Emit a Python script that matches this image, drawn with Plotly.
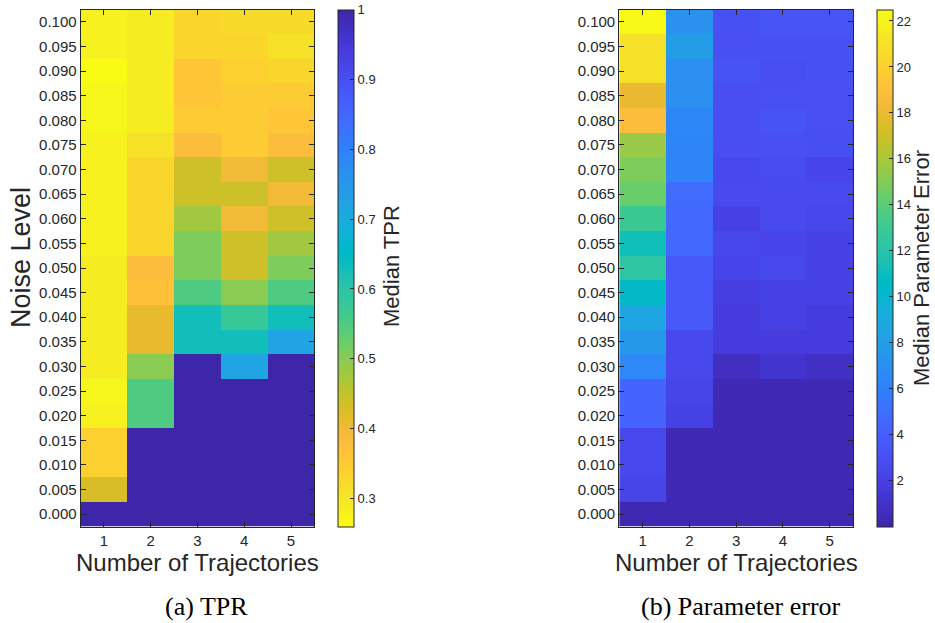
import plotly.graph_objects as go

# ---------------- data ----------------
trajectories = [1, 2, 3, 4, 5]
noise_levels = [0.100, 0.095, 0.090, 0.085, 0.080, 0.075, 0.070, 0.065, 0.060, 0.055,
                0.050, 0.045, 0.040, 0.035, 0.030, 0.025, 0.020, 0.015, 0.010, 0.005, 0.000]
noise_ticks = [round(i * 0.005, 3) for i in range(21)]

# Median TPR, rows = noise level (top to bottom), columns = trajectories 1..5
tpr = [
    [0.28, 0.29, 0.33, 0.32, 0.32],
    [0.28, 0.29, 0.33, 0.33, 0.31],
    [0.26, 0.29, 0.36, 0.34, 0.33],
    [0.27, 0.29, 0.36, 0.35, 0.35],
    [0.27, 0.29, 0.35, 0.35, 0.36],
    [0.28, 0.31, 0.38, 0.35, 0.38],
    [0.28, 0.33, 0.44, 0.40, 0.44],
    [0.28, 0.33, 0.44, 0.44, 0.40],
    [0.28, 0.33, 0.48, 0.40, 0.44],
    [0.28, 0.33, 0.51, 0.44, 0.48],
    [0.29, 0.38, 0.51, 0.44, 0.51],
    [0.29, 0.37, 0.55, 0.50, 0.55],
    [0.29, 0.41, 0.63, 0.58, 0.63],
    [0.29, 0.41, 0.63, 0.63, 0.72],
    [0.29, 0.50, 1.00, 0.72, 1.00],
    [0.27, 0.55, 1.00, 1.00, 1.00],
    [0.28, 0.55, 1.00, 1.00, 1.00],
    [0.34, 1.00, 1.00, 1.00, 1.00],
    [0.34, 1.00, 1.00, 1.00, 1.00],
    [0.43, 1.00, 1.00, 1.00, 1.00],
    [1.00, 1.00, 1.00, 1.00, 1.00],
]

# Median parameter error
perr = [
    [22.4, 7.2, 3.2, 3.4, 3.4],
    [21.0, 8.0, 3.1, 3.2, 3.2],
    [21.0, 7.0, 3.3, 3.0, 3.2],
    [18.0, 7.1, 2.9, 3.1, 3.1],
    [18.8, 6.4, 2.9, 3.3, 3.1],
    [15.6, 6.3, 2.9, 3.1, 3.0],
    [14.9, 6.3, 2.6, 2.8, 2.4],
    [14.4, 4.8, 2.7, 2.7, 2.7],
    [13.0, 4.6, 2.1, 2.7, 2.5],
    [11.2, 4.6, 2.5, 2.4, 2.2],
    [12.3, 3.7, 2.4, 2.6, 2.2],
    [10.6, 3.7, 1.9, 2.2, 2.2],
    [8.6, 3.7, 1.7, 2.1, 1.8],
    [7.6, 2.6, 1.7, 1.7, 1.7],
    [6.5, 2.6, 0.7, 1.2, 0.8],
    [4.3, 2.3, 0.4, 0.4, 0.4],
    [4.3, 2.2, 0.4, 0.4, 0.4],
    [2.6, 0.4, 0.4, 0.4, 0.4],
    [2.6, 0.4, 0.4, 0.4, 0.4],
    [2.3, 0.4, 0.4, 0.4, 0.4],
    [0.3, 0.3, 0.3, 0.3, 0.3],
]

tpr_cbar_ticks = [0.3, 0.4, 0.5, 0.6, 0.7, 0.8, 0.9, 1]
perr_cbar_ticks = [2, 4, 6, 8, 10, 12, 14, 16, 18, 20, 22]

# MATLAB parula (R2014b) colormap
parula = [
    [0.2422, 0.1504, 0.6603], [0.2504, 0.1650, 0.7076], [0.2578, 0.1818, 0.7511], [0.2647, 0.1978, 0.7952],
    [0.2706, 0.2147, 0.8364], [0.2751, 0.2342, 0.8710], [0.2783, 0.2559, 0.8991], [0.2803, 0.2782, 0.9221],
    [0.2813, 0.3006, 0.9414], [0.2810, 0.3228, 0.9579], [0.2795, 0.3447, 0.9717], [0.2760, 0.3667, 0.9829],
    [0.2699, 0.3892, 0.9906], [0.2602, 0.4123, 0.9952], [0.2440, 0.4358, 0.9988], [0.2206, 0.4603, 0.9973],
    [0.1963, 0.4847, 0.9892], [0.1834, 0.5074, 0.9798], [0.1786, 0.5289, 0.9682], [0.1764, 0.5499, 0.9520],
    [0.1687, 0.5703, 0.9359], [0.1540, 0.5902, 0.9218], [0.1460, 0.6091, 0.9079], [0.1380, 0.6276, 0.8973],
    [0.1248, 0.6459, 0.8883], [0.1113, 0.6635, 0.8763], [0.0952, 0.6798, 0.8598], [0.0689, 0.6948, 0.8394],
    [0.0297, 0.7082, 0.8163], [0.0036, 0.7203, 0.7917], [0.0067, 0.7312, 0.7660], [0.0433, 0.7411, 0.7394],
    [0.0964, 0.7500, 0.7120], [0.1408, 0.7584, 0.6842], [0.1717, 0.7670, 0.6554], [0.1938, 0.7758, 0.6251],
    [0.2161, 0.7843, 0.5923], [0.2470, 0.7918, 0.5567], [0.2906, 0.7973, 0.5188], [0.3406, 0.8008, 0.4789],
    [0.3909, 0.8029, 0.4354], [0.4456, 0.8024, 0.3909], [0.5044, 0.7993, 0.3480], [0.5616, 0.7942, 0.3045],
    [0.6174, 0.7876, 0.2612], [0.6720, 0.7793, 0.2227], [0.7242, 0.7698, 0.1910], [0.7738, 0.7598, 0.1646],
    [0.8203, 0.7498, 0.1535], [0.8634, 0.7406, 0.1596], [0.9035, 0.7330, 0.1774], [0.9393, 0.7288, 0.2100],
    [0.9728, 0.7298, 0.2394], [0.9956, 0.7434, 0.2371], [0.9970, 0.7659, 0.2199], [0.9952, 0.7893, 0.2028],
    [0.9892, 0.8136, 0.1885], [0.9786, 0.8386, 0.1766], [0.9676, 0.8639, 0.1643], [0.9610, 0.8890, 0.1537],
    [0.9597, 0.9135, 0.1423], [0.9628, 0.9373, 0.1265], [0.9691, 0.9606, 0.1064], [0.9769, 0.9839, 0.0805],
]
n = len(parula)
parula_scale = [[i / (n - 1), "rgb(%d,%d,%d)" % tuple(round(c * 255) for c in rgb)] for i, rgb in enumerate(parula)]

# ---------------- layout helpers ----------------
W, H = 935, 623
def px(x):
    return x / W
def py(y):
    return 1 - y / H

TOP, BOT = 9.5, 526.5
AX_COL = "#262626"
SANS = "Liberation Sans, Arial, sans-serif"
SERIF = "Liberation Serif, Times New Roman, serif"

fig = go.Figure()

fig.add_trace(go.Heatmap(
    x=trajectories, y=noise_levels, z=tpr,
    colorscale=parula_scale, reversescale=True, zmin=0.26, zmax=1.0,
    xaxis="x", yaxis="y",
    colorbar=dict(
        x=px(338), xanchor="left", xpad=0, ypad=0,
        y=py((TOP + BOT) / 2), yanchor="middle",
        len=(BOT - TOP) / H, lenmode="fraction",
        thickness=16, thicknessmode="pixels",
        outlinewidth=1, outlinecolor=AX_COL,
        tickvals=tpr_cbar_ticks, ticktext=[str(v) for v in tpr_cbar_ticks],
        ticks="inside", ticklen=4, tickcolor=AX_COL,
        tickfont=dict(family=SANS, size=13, color=AX_COL),
    ),
))

fig.add_trace(go.Heatmap(
    x=trajectories, y=noise_levels, z=perr,
    colorscale=parula_scale, zmin=0.0, zmax=22.5,
    xaxis="x2", yaxis="y2",
    colorbar=dict(
        x=px(877), xanchor="left", xpad=0, ypad=0,
        y=py((TOP + BOT) / 2), yanchor="middle",
        len=(BOT - TOP) / H, lenmode="fraction",
        thickness=16, thicknessmode="pixels",
        outlinewidth=1, outlinecolor=AX_COL,
        tickvals=perr_cbar_ticks, ticktext=[str(v) for v in perr_cbar_ticks],
        ticks="inside", ticklen=4, tickcolor=AX_COL,
        tickfont=dict(family=SANS, size=13, color=AX_COL),
    ),
))

def xaxis_cfg(x0, x1, anchor):
    return dict(
        domain=[px(x0), px(x1)], anchor=anchor,
        range=[0.5, 5.5], tickvals=trajectories,
        ticks="inside", ticklen=5, tickcolor=AX_COL, tickwidth=1,
        showline=True, linecolor=AX_COL, linewidth=1, mirror="ticks",
        showgrid=False, zeroline=False,
        tickfont=dict(family=SANS, size=15, color=AX_COL),
        fixedrange=True,
    )

def yaxis_cfg(anchor):
    return dict(
        domain=[py(BOT), py(TOP)], anchor=anchor,
        range=[-0.0025, 0.1025], tickvals=noise_ticks, tickformat=".3f",
        ticks="inside", ticklen=5, tickcolor=AX_COL, tickwidth=1,
        showline=True, linecolor=AX_COL, linewidth=1, mirror="ticks",
        showgrid=False, zeroline=False,
        tickfont=dict(family=SANS, size=15, color=AX_COL),
        fixedrange=True,
    )

fig.update_layout(
    width=W, height=H,
    margin=dict(l=0, r=0, t=0, b=0),
    paper_bgcolor="white", plot_bgcolor="white",
    xaxis=xaxis_cfg(80.6, 314.4, "y"),
    yaxis=yaxis_cfg("x"),
    xaxis2=xaxis_cfg(619.2, 853.0, "y2"),
    yaxis2=yaxis_cfg("x2"),
    showlegend=False,
)

annotations = [
    dict(text="Noise Level", x=px(21), y=py(258), textangle=-90,
         font=dict(family=SANS, size=27, color=AX_COL)),
    dict(text="Number of Trajectories", x=px(197), y=py(562),
         font=dict(family=SANS, size=24, color=AX_COL)),
    dict(text="Number of Trajectories", x=px(736), y=py(562),
         font=dict(family=SANS, size=24, color=AX_COL)),
    dict(text="Median TPR", x=px(392), y=py(266), textangle=-90,
         font=dict(family=SANS, size=22, color=AX_COL)),
    dict(text="Median Parameter Error", x=px(921), y=py(268), textangle=-90,
         font=dict(family=SANS, size=22, color=AX_COL)),
    dict(text="(a) TPR", x=px(206), y=py(606),
         font=dict(family=SERIF, size=26, color="black")),
    dict(text="(b) Parameter error", x=px(741), y=py(606),
         font=dict(family=SERIF, size=26, color="black")),
]
for a in annotations:
    a.update(xref="paper", yref="paper", showarrow=False, xanchor="center", yanchor="middle")
fig.update_layout(annotations=annotations)

fig.write_html("out.html")
